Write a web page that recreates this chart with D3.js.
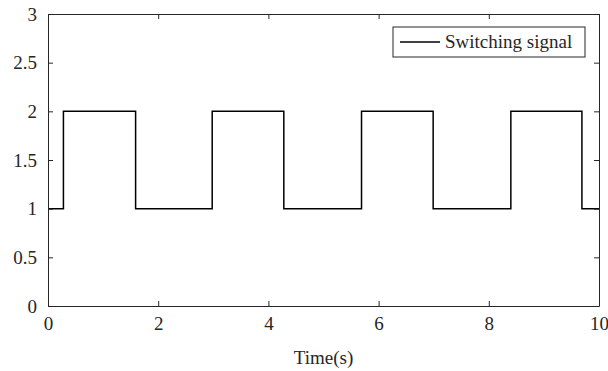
<!DOCTYPE html>
<html>
<head>
<meta charset="utf-8">
<script src="https://cdn.jsdelivr.net/npm/d3@7"></script>
<style>
  body { margin: 0; background: #fff; }
  text { font-family: "Liberation Serif", "Times New Roman", serif; fill: #262626; }
</style>
</head>
<body>
<svg id="chart"></svg>
<script>
// switching instants (s) and the signal level held after each one
const switchTimes = [0, 0.28, 1.59, 2.98, 4.28, 5.69, 6.99, 8.40, 9.69, 10];
const switchLevels = [1, 2, 1, 2, 1, 2, 1, 2, 1, 1];
const xTicks = [0, 2, 4, 6, 8, 10];
const yTicks = [0, 0.5, 1, 1.5, 2, 2.5, 3];
const seriesName = 'Switching signal';
const xLabel = 'Time(s)';

const width = 608, height = 371;
const margin = {top: 14, right: 9, bottom: 65, left: 48};
const innerW = width - margin.left - margin.right;
const innerH = height - margin.top - margin.bottom;
const fontFamily = '"Liberation Serif", "Times New Roman", serif';
const fontSize = '19px';

const svg = d3.select('#chart')
    .attr('width', width)
    .attr('height', height);

const chart = svg.append('g')
    .attr('transform', `translate(${margin.left},${margin.top})`);

const xScale = d3.scaleLinear().domain([0, 10]).range([0, innerW]);
const yScale = d3.scaleLinear().domain([0, 3]).range([innerH, 0]);

// signal data: value held from each switching instant
const data = switchTimes.map((t, i) => ({t: t, v: switchLevels[i]}));

const line = d3.line()
    .x(d => xScale(d.t))
    .y(d => yScale(d.v))
    .curve(d3.curveStepAfter);

chart.append('path')
    .datum(data)
    .attr('fill', 'none')
    .attr('stroke', '#000')
    .attr('stroke-width', 1.5)
    .attr('d', line);

// axes, ticks pointing inward like MATLAB
const axisColor = '#262626';
const styleAxis = g => {
  g.attr('font-family', fontFamily).attr('font-size', fontSize);
  g.select('.domain').attr('stroke', axisColor);
  g.selectAll('.tick line').attr('stroke', axisColor);
  g.selectAll('text').attr('fill', axisColor);
};

chart.append('g')
    .attr('transform', `translate(0,${innerH})`)
    .call(d3.axisBottom(xScale).tickValues(xTicks).tickFormat(d3.format('')).tickSizeInner(-5).tickSizeOuter(0).tickPadding(11))
    .call(styleAxis);

chart.append('g')
    .call(d3.axisLeft(yScale).tickValues(yTicks).tickFormat(d3.format('')).tickSizeInner(-5).tickSizeOuter(0).tickPadding(11))
    .call(styleAxis);

chart.append('g')
    .call(d3.axisTop(xScale).tickValues(xTicks).tickFormat('').tickSizeInner(-5).tickSizeOuter(0))
    .call(styleAxis);

chart.append('g')
    .attr('transform', `translate(${innerW},0)`)
    .call(d3.axisRight(yScale).tickValues(yTicks).tickFormat('').tickSizeInner(-5).tickSizeOuter(0))
    .call(styleAxis);

// x-axis title
svg.append('text')
    .attr('x', margin.left + innerW / 2)
    .attr('y', 364)
    .attr('text-anchor', 'middle')
    .attr('font-family', fontFamily)
    .attr('font-size', fontSize)
    .text(xLabel);

// legend
const legend = svg.append('g').attr('transform', 'translate(393,27)');
legend.append('rect')
    .attr('width', 192)
    .attr('height', 30)
    .attr('fill', '#fff')
    .attr('stroke', axisColor)
    .attr('stroke-width', 1);
legend.append('line')
    .attr('x1', 7).attr('x2', 47)
    .attr('y1', 15).attr('y2', 15)
    .attr('stroke', '#000')
    .attr('stroke-width', 1.5);
legend.append('text')
    .attr('x', 52)
    .attr('y', 21)
    .attr('font-family', fontFamily)
    .attr('font-size', fontSize)
    .attr('fill', '#000')
    .text(seriesName);
</script>
</body>
</html>
